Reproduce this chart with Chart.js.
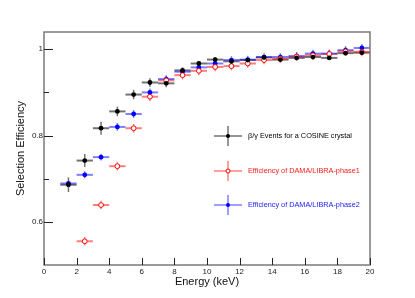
<!DOCTYPE html>
<html>
<head>
<meta charset="utf-8">
<script src="https://cdn.jsdelivr.net/npm/chart.js@4"></script>
<style>
  html, body { margin: 0; padding: 0; background: #fff; }
</style>
</head>
<body>
<canvas id="effChart" width="415" height="298"></canvas>
<script>
// bin centres (keV), each bin is 1 keV wide
const energy = [1.5, 2.5, 3.5, 4.5, 5.5, 6.5, 7.5, 8.5, 9.5, 10.5, 11.5, 12.5, 13.5, 14.5, 15.5, 16.5, 17.5, 18.5, 19.5]
const binHalfWidth = [0.5, 0.5, 0.5, 0.5, 0.5, 0.5, 0.5, 0.5, 0.5, 0.5, 0.5, 0.5, 0.5, 0.5, 0.5, 0.5, 0.5, 0.5, 0.5]

const cosineEff = [0.686, 0.742, 0.817, 0.856, 0.895, 0.923, 0.921, 0.951, 0.967, 0.976, 0.972, 0.975, 0.981, 0.976, 0.980, 0.982, 0.980, 0.991, 0.992]
const cosineErr = [0.017, 0.015, 0.015, 0.011, 0.011, 0.010, 0.009, 0.007, 0.006, 0.006, 0.005, 0.005, 0.005, 0.005, 0.005, 0.005, 0.005, 0.005, 0.005]

const phase1Eff = [null, 0.555, 0.639, 0.729, 0.817, 0.890, 0.928, 0.940, 0.950, 0.959, 0.961, 0.967, 0.975, 0.978, 0.983, 0.986, 0.989, 0.995, 0.994]
const phase1Err = [null, 0.010, 0.010, 0.010, 0.010, 0.010, 0.010, 0.010, 0.010, 0.010, 0.010, 0.010, 0.010, 0.010, 0.010, 0.010, 0.010, 0.010, 0.010]

const phase2Eff = [0.689, 0.709, 0.750, 0.820, 0.850, 0.900, 0.931, 0.948, 0.958, 0.967, 0.975, 0.976, 0.982, 0.982, 0.984, 0.990, 0.990, 0.998, 1.003]
const phase2Err = [0.006, 0.008, 0.008, 0.009, 0.009, 0.009, 0.009, 0.009, 0.009, 0.009, 0.009, 0.009, 0.009, 0.009, 0.009, 0.009, 0.009, 0.009, 0.009]

const xTickValues = [0, 2, 4, 6, 8, 10, 12, 14, 16, 18, 20]
const yTickValues = [0.6, 0.8, 1]
const yTickLabels = ['0.6', '0.8', '1']
const yMinorTicks = [0.7, 0.9]

const labelCosine = 'β/γ Events for a COSINE crystal'
const labelPhase1 = 'Efficiency of DAMA/LIBRA-phase1'
const labelPhase2 = 'Efficiency of DAMA/LIBRA-phase2'

const FONT = '"Liberation Sans", Arial, sans-serif'

function points(vals) {
    let out = []
    energy.forEach((x, i) => {
        if (vals[i] !== null) out.push({x: x, y: vals[i], i: i})
    })
    return out
}

// x/y error bars drawn under the markers
const errorBars = {
    id: 'errorBars',
    beforeDatasetsDraw(chart) {
        const ctx = chart.ctx
        const xs = chart.scales.x
        const ys = chart.scales.y
        chart.data.datasets.forEach((ds, di) => {
            ctx.save()
            ctx.strokeStyle = ds.barColor
            ds.data.forEach(p => {
                const xe = binHalfWidth[p.i]
                const ye = ds.yErr[p.i]
                const px = xs.getPixelForValue(p.x)
                const py = ys.getPixelForValue(p.y)
                ctx.lineWidth = 2
                ctx.beginPath()
                ctx.moveTo(xs.getPixelForValue(p.x - xe), py)
                ctx.lineTo(xs.getPixelForValue(p.x + xe), py)
                ctx.stroke()
                ctx.lineWidth = 1.5
                ctx.beginPath()
                ctx.moveTo(px, ys.getPixelForValue(p.y - ye))
                ctx.lineTo(px, ys.getPixelForValue(p.y + ye))
                ctx.stroke()
            })
            ctx.restore()
        })
    }
}

// ROOT-like frame with inward ticks, plus the in-pad legend
const frameAndLegend = {
    id: 'frameAndLegend',
    afterDraw(chart) {
        const ctx = chart.ctx
        const a = chart.chartArea
        const xs = chart.scales.x
        const ys = chart.scales.y
        ctx.save()
        ctx.strokeStyle = '#7a7a7a'
        ctx.lineWidth = 1.5
        ctx.strokeRect(a.left, a.top, a.right - a.left, a.bottom - a.top)

        ctx.strokeStyle = '#222'
        ctx.lineWidth = 1
        ctx.beginPath()
        xTickValues.forEach(v => {
            const px = Math.round(xs.getPixelForValue(v)) + 0.5
            ctx.moveTo(px, a.bottom)
            ctx.lineTo(px, a.bottom - 7)
        })
        yTickValues.forEach(v => {
            const py = Math.round(ys.getPixelForValue(v)) + 0.5
            ctx.moveTo(a.left, py)
            ctx.lineTo(a.left + 9, py)
        })
        yMinorTicks.forEach(v => {
            const py = Math.round(ys.getPixelForValue(v)) + 0.5
            ctx.moveTo(a.left, py)
            ctx.lineTo(a.left + 5, py)
        })
        ctx.stroke()

        // legend
        const entries = [
            {ds: chart.data.datasets[0], text: labelCosine, y: 136},
            {ds: chart.data.datasets[1], text: labelPhase1, y: 171},
            {ds: chart.data.datasets[2], text: labelPhase2, y: 205}
        ]
        const mx = 228
        entries.forEach(e => {
            ctx.strokeStyle = e.ds.barColor
            ctx.lineWidth = 1.5
            ctx.beginPath()
            ctx.moveTo(mx - 14, e.y)
            ctx.lineTo(mx + 14, e.y)
            ctx.moveTo(mx, e.y - 10)
            ctx.lineTo(mx, e.y + 10)
            ctx.stroke()
            ctx.beginPath()
            ctx.arc(mx, e.y, 2, 0, Math.PI * 2)
            ctx.fillStyle = e.ds.backgroundColor
            ctx.fill()
            if (e.ds.borderWidth) {
                ctx.lineWidth = e.ds.borderWidth
                ctx.strokeStyle = e.ds.borderColor
                ctx.stroke()
            }
            ctx.fillStyle = e.ds.textColor
            ctx.font = '7.3px ' + FONT
            ctx.textBaseline = 'middle'
            ctx.textAlign = 'left'
            ctx.fillText(e.text, 248, e.y)
        })
        ctx.restore()
    }
}

let effChart = new Chart(document.getElementById('effChart'), {
    type: 'scatter',
    data: {
        datasets: [{
            label: labelCosine,
            data: points(cosineEff),
            yErr: cosineErr,
            barColor: 'rgba(0, 0, 0, 0.55)',
            textColor: '#000',
            backgroundColor: '#000',
            borderWidth: 0,
            pointRadius: 2.4
        }, {
            label: labelPhase1,
            data: points(phase1Eff),
            yErr: phase1Err,
            barColor: 'rgba(255, 0, 0, 0.5)',
            textColor: '#ff1a1a',
            backgroundColor: '#fff',
            borderColor: 'rgb(255, 0, 0)',
            borderWidth: 1,
            pointRadius: 2.4
        }, {
            label: labelPhase2,
            data: points(phase2Eff),
            yErr: phase2Err,
            barColor: 'rgba(0, 0, 255, 0.5)',
            textColor: '#1a1aff',
            backgroundColor: 'rgb(0, 0, 255)',
            borderWidth: 0,
            pointRadius: 2.4
        }]
    },
    options: {
        responsive: false,
        animation: false,
        devicePixelRatio: 1,
        layout: {padding: {top: 32, right: 45, left: 0, bottom: 0}},
        plugins: {
            legend: {display: false},
            tooltip: {enabled: false}
        },
        scales: {
            x: {
                type: 'linear',
                min: 0,
                max: 20,
                afterBuildTicks: s => { s.ticks = xTickValues.map(v => ({value: v})) },
                afterFit: s => { s.height = 33 },
                grid: {display: false, drawTicks: false},
                border: {display: false},
                ticks: {
                    padding: 2,
                    color: '#222',
                    font: {family: FONT, size: 8}
                },
                title: {
                    display: true,
                    text: 'Energy (keV)',
                    color: '#111',
                    font: {family: FONT, size: 11},
                    padding: {top: 0, bottom: 9}
                }
            },
            y: {
                type: 'linear',
                min: 0.5,
                max: 1.04,
                afterBuildTicks: s => { s.ticks = yTickValues.map(v => ({value: v})) },
                afterFit: s => { s.width = 44 },
                grid: {display: false, drawTicks: false},
                border: {display: false},
                ticks: {
                    padding: 1,
                    color: '#222',
                    font: {family: FONT, size: 8},
                    callback: (v, idx) => yTickLabels[idx]
                },
                title: {
                    display: true,
                    text: 'Selection Efficiency',
                    color: '#111',
                    font: {family: FONT, size: 11},
                    padding: {top: 14, bottom: 0}
                }
            }
        }
    },
    plugins: [errorBars, frameAndLegend]
});
</script>
</body>
</html>
